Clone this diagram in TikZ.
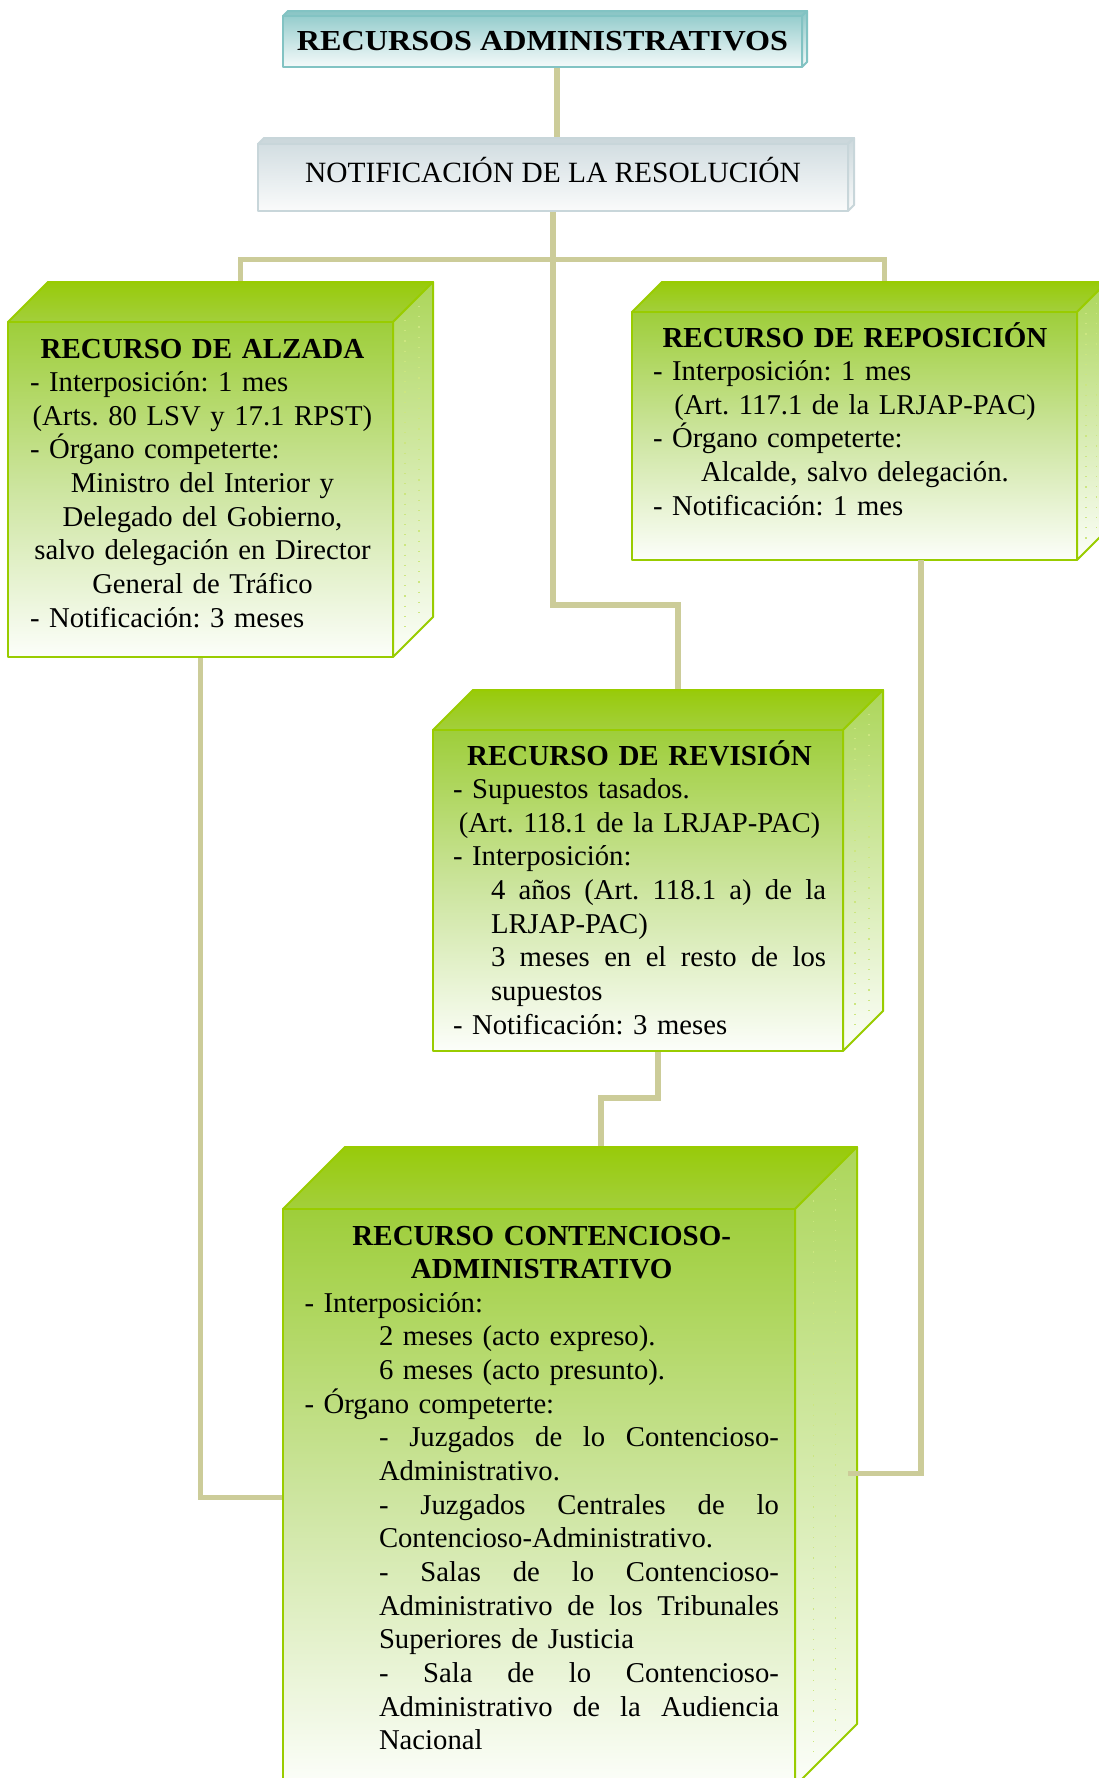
\documentclass[tikz,border=0pt]{standalone}
\usepackage{fontspec}
\usepackage{graphicx}
\setmainfont{Liberation Serif}
\usetikzlibrary{calc,backgrounds}
\frenchspacing
\definecolor{conncol}{RGB}{204,204,153}
\definecolor{gborder}{RGB}{153,204,0}
\definecolor{gtopA}{RGB}{152,203,10}
\definecolor{gtopB}{RGB}{163,207,60}
\definecolor{gfront}{RGB}{158,206,58}
\definecolor{gmid}{RGB}{205,229,160}
\definecolor{gside}{RGB}{172,214,90}
\definecolor{gbot}{RGB}{252,254,250}
\definecolor{tborder}{RGB}{130,195,195}
\definecolor{tfront}{RGB}{150,205,205}
\definecolor{ttop}{RGB}{140,198,198}
\definecolor{tbot}{RGB}{245,250,250}
\definecolor{sborder}{RGB}{200,214,218}
\definecolor{sfront}{RGB}{211,222,226}
\definecolor{stop}{RGB}{204,216,220}
\definecolor{sbot}{RGB}{250,251,251}
\newcommand\bodyfont{\fontsize{28.7}{33.65}\selectfont\lineskiplimit=-100pt\relax\frenchspacing}
\newcommand\headfont{\fontsize{29}{33.65}\selectfont\bfseries}
\newcommand\Lc[1]{\makebox[\linewidth][c]{#1}}
\newcommand\Ii[2]{\hspace*{#1}#2}
\newcommand\Is[2]{\hspace*{#1}\hbox to \dimexpr\linewidth-#1\relax{\spaceskip=0.25em plus 1fil\relax\xspaceskip=\spaceskip #2}}
% #1 name, #2 x1, #3 y1, #4 x2, #5 y2, #6 depth, #7 palette
\newcommand\mycube[7]{%
  \path[#7top] (#2,#3) -- (#2+#6,#3-#6) -- (#4+#6,#3-#6) -- (#4,#3) -- cycle;
  \path[#7side] (#4,#3) -- (#4+#6,#3-#6) -- (#4+#6,#5-#6) -- (#4,#5) -- cycle;
  \foreach \f in {0.3,0.65}{\path[#7dot] (#4+\f*#6,#3-\f*#6+10) -- (#4+\f*#6,#5-\f*#6-10);}
  \pgfmathsetmacro\cw{#4-#2}\pgfmathsetmacro\ch{#5-#3}%
  \node[#7front, anchor=north west, minimum width=\cw pt, minimum height=\ch pt] (#1) at (#2,#3) {};
  \coordinate (#1-top) at ({(#2+#4)/2+#6},{#3-#6});
}
\begin{document}
\begin{tikzpicture}[x=1pt,y=-1pt,
  conn/.style={draw=conncol, line width=5.5pt},
  face/.style={line width=2pt, line join=round, inner sep=0pt, outer sep=0pt},
  greenfront/.style={face, draw=gborder, top color=gfront, bottom color=gbot, middle color=gmid},
  greentop/.style={face, draw=gborder, top color=gtopA, bottom color=gtopB},
  greenside/.style={face, draw=gborder, top color=gside, bottom color=gbot},
  greendot/.style={draw=gborder!50, line width=1.2pt, dash pattern=on 1.2pt off 9pt},
  tealfront/.style={face, draw=tborder, top color=tfront, bottom color=tbot},
  tealtop/.style={face, draw=tborder, fill=ttop},
  tealside/.style={face, draw=tborder, top color=ttop, bottom color=tbot},
  tealdot/.style={draw=none},
  grayfront/.style={face, draw=sborder, top color=sfront, bottom color=sbot},
  graytop/.style={face, draw=sborder, fill=stop},
  grayside/.style={face, draw=sborder, top color=stop, bottom color=sbot},
  graydot/.style={draw=none},
  txt/.style={anchor=base west, inner sep=0pt, outer sep=0pt, align=left, font=\bodyfont},
  line/.style={anchor=base, inner sep=0pt, outer sep=0pt, font=\bodyfont}]
\useasboundingbox (0,0) rectangle (1099,1778);
\clip (0,0) rectangle (1099,1778);

\mycube{title}{283}{16}{802}{67}{5}{teal}
\mycube{notif}{258}{144}{848}{211}{6}{gray}
\mycube{alz}{8}{322}{393}{657}{40}{green}
\mycube{rep}{632}{312}{1077}{560}{30}{green}
\mycube{rev}{433}{730}{843}{1051}{40}{green}
\mycube{cont}{283}{1209}{795}{1786}{62}{green}

\node[line, font=\headfont] (titletext) at (542.5,50) {\scalebox{1.109}[1]{RECURSOS ADMINISTRATIVOS}};
\node[line, font=\fontsize{29.4}{33.65}\selectfont] (notiftext) at (553,182) {NOTIFICACIÓN DE LA RESOLUCIÓN};

\node[txt, text width=345pt] (alztext) at (30,358) {%
\Lc{\headfont RECURSO DE ALZADA}\\
- Interposición: 1 mes\\
\Lc{(Arts. 80 LSV y 17.1 RPST)}\\
- Órgano competerte:\\
\Lc{Ministro del Interior y}\\
\Lc{Delegado del Gobierno,}\\
\Lc{salvo delegación en Director}\\
\Lc{General de Tráfico}\\
- Notificación: 3 meses};

\node[txt, text width=404pt] (reptext) at (653,347) {%
\Lc{\headfont RECURSO DE REPOSICIÓN}\\
- Interposición: 1 mes\\
\Lc{(Art. 117.1 de la LRJAP-PAC)}\\
- Órgano competerte:\\
\Lc{Alcalde, salvo delegación.}\\
- Notificación: 1 mes};

\node[txt, text width=373pt] (revtext) at (453,765) {%
\Lc{\headfont RECURSO DE REVISIÓN}\\
- Supuestos tasados.\\
\Lc{(Art. 118.1 de la LRJAP-PAC)}\\
- Interposición:\\
\Is{38pt}{4 años (Art. 118.1 a) de la}\\
\Ii{38pt}{LRJAP-PAC)}\\
\Is{38pt}{3 meses en el resto de los}\\
\Ii{38pt}{supuestos}\\
- Notificación: 3 meses};

\node[txt, text width=474.5pt] (conttext) at (304.5,1245) {%
\Lc{\headfont RECURSO CONTENCIOSO-}\\
\Lc{\headfont ADMINISTRATIVO}\\
- Interposición:\\
\Ii{74.5pt}{2 meses (acto expreso).}\\
\Ii{74.5pt}{6 meses (acto presunto).}\\
- Órgano competerte:\\
\Is{74.5pt}{- Juzgados de lo Contencioso-}\\
\Ii{74.5pt}{Administrativo.}\\
\Is{74.5pt}{- Juzgados Centrales de lo}\\
\Ii{74.5pt}{Contencioso-Administrativo.}\\
\Is{74.5pt}{- Salas de lo Contencioso-}\\
\Is{74.5pt}{Administrativo de los Tribunales}\\
\Ii{74.5pt}{Superiores de Justicia}\\
\Is{74.5pt}{- Sala de lo Contencioso-}\\
\Is{74.5pt}{Administrativo de la Audiencia}\\
\Ii{74.5pt}{Nacional}};

\coordinate (c1) at ($(title.south)+(14.5,0)$);
\coordinate (c3) at ($(rep.south)+(66.5,0)$);
\coordinate (c4) at ($(cont.east)+(53,-24)$);
\coordinate (c5) at ($(rev.south)+(20,0)$);
\coordinate (c6) at ($(rev-top)+(0,-85)$);

\begin{pgfonlayer}{background}
\fill[white] (0,0) rectangle (1099,1778);
\draw[conn] (c1) -- (c1 |- notif-top);
\draw[conn] (alz-top) -- ++(0,-22.5) -| (rep-top);
\draw[conn] (notif.south) |- (c6) -- (rev-top);
\draw[conn] (alz.south) |- (cont.west);
\draw[conn] (c5) -- ++(0,47) -| (cont-top);
\end{pgfonlayer}
\draw[conn] (c3) |- (c4);
\end{tikzpicture}
\end{document}
